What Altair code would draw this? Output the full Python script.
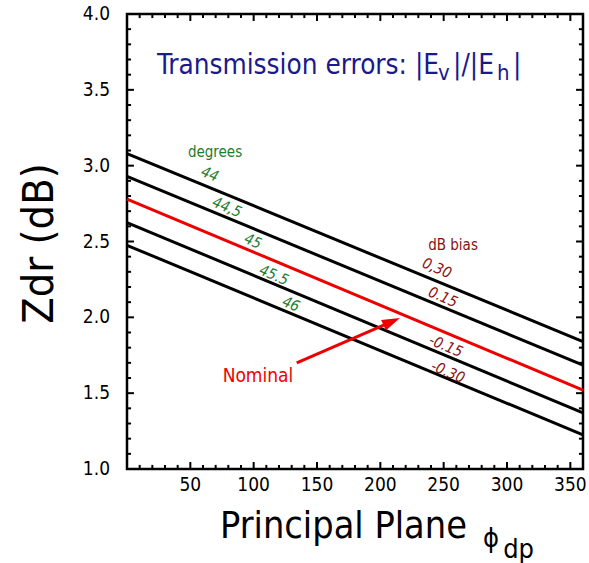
import altair as alt
import pandas as pd

FONT = "DejaVu Sans Condensed, DejaVu Sans"

# ---- data ----
phi_ends = [0, 360]
bias_db = ["0.30", "0.15", "0", "-0.15", "-0.30"]
zdr_start = [3.08, 2.93, 2.78, 2.625, 2.475]
zdr_end = [1.84, 1.685, 1.52, 1.37, 1.225]
line_colors = ["black", "black", "#ee0000", "black", "black"]

deg_labels = ["44", "44,5", "45", "45.5", "46"]
deg_x = [65.5, 79, 99.5, 116, 129.5]
deg_y = [2.945, 2.727, 2.503, 2.279, 2.088]

bias_labels = ["0,30", "0.15", "-0.15", "-0.30"]
bias_x = [244.7, 249.5, 251.8, 253.4]
bias_y = [2.325, 2.134, 1.811, 1.640]

header_text = ["degrees", "dB bias"]
header_x = [69.5, 257.4]
header_y = [3.09, 2.477]
header_color = ["#1e7b2e", "#8b1010"]

nominal_text = ["Nominal"]
nominal_x = [103.4]
nominal_y = [1.613]

arrow_x = [134, 209]
arrow_y = [1.70, 1.972]

title_main = ["Transmission errors: |E", "|/|E", "|"]
title_main_x = [23.7, 257.4, 304.7]
title_main_y = [3.604, 3.604, 3.604]
title_sub = ["v", "h"]
title_sub_x = [245.5, 292.1]
title_sub_y = [3.565, 3.565]

# axis titles (placed in data coordinates outside the frame)
ytitle = ["Zdr (dB)"]
ytitle_x = [-58.4]
ytitle_y = [2.487]
xtitle = ["Principal Plane"]
xtitle_x = [73.4]
xtitle_y = [0.545]
xtitle_sym = ["\u03d5"]
xtitle_sym_x = [281.0]
xtitle_sym_y = [0.486]
xtitle_sub = ["dp"]
xtitle_sub_x = [297.0]
xtitle_sub_y = [0.41]

# axis tick values and labels
x_major = list(range(50, 360, 50))
x_minor = [v for v in range(10, 360, 10) if v % 50 != 0]
y_major = [1.0, 1.5, 2.0, 2.5, 3.0, 3.5, 4.0]
y_minor = [round(1.0 + 0.1 * i, 1) for i in range(31) if i % 5 != 0]
x_tick_labels = [str(v) for v in x_major]
y_tick_labels = [f"{v:.1f}" for v in y_major]

X0, X1 = 0, 360
Y0, Y1 = 1.0, 4.0
XLAB_Y = 0.954     # where the x tick labels hang (just below the frame)
YLAB_X = -13.4     # where the y tick labels end (just left of the frame)

# inward tick lengths (style, in axis units)
XT_MAJ, XT_MIN = 0.046, 0.027
YT_MAJ, YT_MIN = 5.5, 3.2

# ---- tables ----
rows = []
for b, s, e in zip(bias_db, zdr_start, zdr_end):
    rows.append({"x": phi_ends[0], "y": s, "bias": b})
    rows.append({"x": phi_ends[1], "y": e, "bias": b})
df_lines = pd.DataFrame(rows)

# each tick is a two-point segment drawn with a line mark
tick_pts = []
tid = 0
def add_tick(xa, ya, xb, yb):
    global tid
    tick_pts.append({"x": xa, "y": ya, "tid": tid, "o": 0})
    tick_pts.append({"x": xb, "y": yb, "tid": tid, "o": 1})
    tid += 1

for vals, L in ((x_major, XT_MAJ), (x_minor, XT_MIN)):
    for v in vals:
        add_tick(v, Y0, v, Y0 + L)
        add_tick(v, Y1, v, Y1 - L)
for vals, L in ((y_major[1:-1], YT_MAJ), (y_minor, YT_MIN)):
    for v in vals:
        add_tick(X0, v, X0 + L, v)
        add_tick(X1, v, X1 - L, v)
df_ticks = pd.DataFrame(tick_pts)

XS = alt.Scale(domain=[X0, X1], nice=False, zero=False)
YS = alt.Scale(domain=[Y0, Y1], nice=False, zero=False)
XE = alt.X("x:Q", scale=XS, axis=None)
YE = alt.Y("y:Q", scale=YS, axis=None)

def enc(df, mark, **extra):
    return alt.Chart(df).mark_text(**mark).encode(x=XE, y=YE, text="t:N", **extra)

lines = alt.Chart(df_lines).mark_line(strokeWidth=3).encode(
    x=XE, y=YE,
    detail="bias:N",
    color=alt.Color("bias:N", scale=alt.Scale(domain=bias_db, range=line_colors), legend=None),
)

ticks = alt.Chart(df_ticks).mark_line(color="black", strokeWidth=2).encode(
    x=XE, y=YE, detail="tid:N", order="o:Q",
)

df_xl = pd.DataFrame({"x": x_major, "y": [XLAB_Y] * len(x_major), "t": x_tick_labels})
xlabels = enc(df_xl, dict(font=FONT, fontSize=19, color="black", align="center", baseline="top"))
df_yl = pd.DataFrame({"x": [YLAB_X] * len(y_major), "y": y_major, "t": y_tick_labels})
ylabels = enc(df_yl, dict(font=FONT, fontSize=19, color="black", align="right", baseline="middle"))

df_yt = pd.DataFrame({"x": ytitle_x, "y": ytitle_y, "t": ytitle})
ytl = enc(df_yt, dict(font=FONT, fontSize=43, color="black", align="center",
                      baseline="alphabetic", angle=270))
df_xt = pd.DataFrame({"x": xtitle_x, "y": xtitle_y, "t": xtitle})
xtl = enc(df_xt, dict(font=FONT, fontSize=37.5, color="black", align="left", baseline="alphabetic"))

df_deg = pd.DataFrame({"x": deg_x, "y": deg_y, "t": deg_labels})
deg = enc(df_deg, dict(font=FONT, fontSize=15, fontStyle="italic", color="#1e7b2e", angle=23,
                       align="center", baseline="middle"))

df_bias = pd.DataFrame({"x": bias_x, "y": bias_y, "t": bias_labels})
bias = enc(df_bias, dict(font=FONT, fontSize=15, fontStyle="italic", color="#8b1010",
                         angle=23, align="center", baseline="middle"))

df_head = pd.DataFrame({"x": header_x, "y": header_y, "t": header_text, "c": header_color})
heads = enc(df_head, dict(font=FONT, fontSize=15, align="center", baseline="middle"),
            color=alt.Color("c:N", scale=None))

df_nom = pd.DataFrame({"x": nominal_x, "y": nominal_y, "t": nominal_text})
nom = enc(df_nom, dict(font=FONT, fontSize=19, color="#ee0000", align="center", baseline="middle"))

df_arrow = pd.DataFrame({"x": arrow_x, "y": arrow_y})
arrow_line = alt.Chart(df_arrow).mark_line(color="#ee0000", strokeWidth=3).encode(x=XE, y=YE)
df_head_pt = pd.DataFrame({"x": arrow_x[1:], "y": arrow_y[1:]})
arrow_head = alt.Chart(df_head_pt).mark_point(
    shape="M0,-1L0.65,1L-0.65,1Z", filled=True, size=324, angle=66,
    color="#ee0000", opacity=1, strokeWidth=0,
).encode(x=XE, y=YE)

df_tmain = pd.DataFrame({"x": title_main_x, "y": title_main_y, "t": title_main})
tmain = enc(df_tmain, dict(font=FONT, fontSize=27.7, color="#1a1a8c", align="left",
                           baseline="alphabetic"))
df_tsub = pd.DataFrame({"x": title_sub_x, "y": title_sub_y, "t": title_sub})
tsub = enc(df_tsub, dict(font=FONT, fontSize=22, color="#1a1a8c", align="left",
                         baseline="alphabetic"))

df_xs = pd.DataFrame({"x": xtitle_sym_x, "y": xtitle_sym_y, "t": xtitle_sym})
xsym = enc(df_xs, dict(font=FONT, fontSize=27, color="black", align="left", baseline="alphabetic"))
df_xsub = pd.DataFrame({"x": xtitle_sub_x, "y": xtitle_sub_y, "t": xtitle_sub})
xsub = enc(df_xsub, dict(font=FONT, fontSize=27, color="black", align="left", baseline="alphabetic"))

chart = alt.layer(
    lines, ticks, xlabels, ylabels, ytl, xtl, deg, bias, heads, nom,
    arrow_line, arrow_head, tmain, tsub, xsym, xsub
).properties(
    width=456, height=455,
    autosize=alt.AutoSizeParams(type="none"),
    padding={"left": 127, "top": 14, "right": 6, "bottom": 94},
    background="white",
).configure_view(
    stroke="black", strokeWidth=2.5
)

chart.save("out.html", embed_options={"renderer": "svg", "actions": False})
